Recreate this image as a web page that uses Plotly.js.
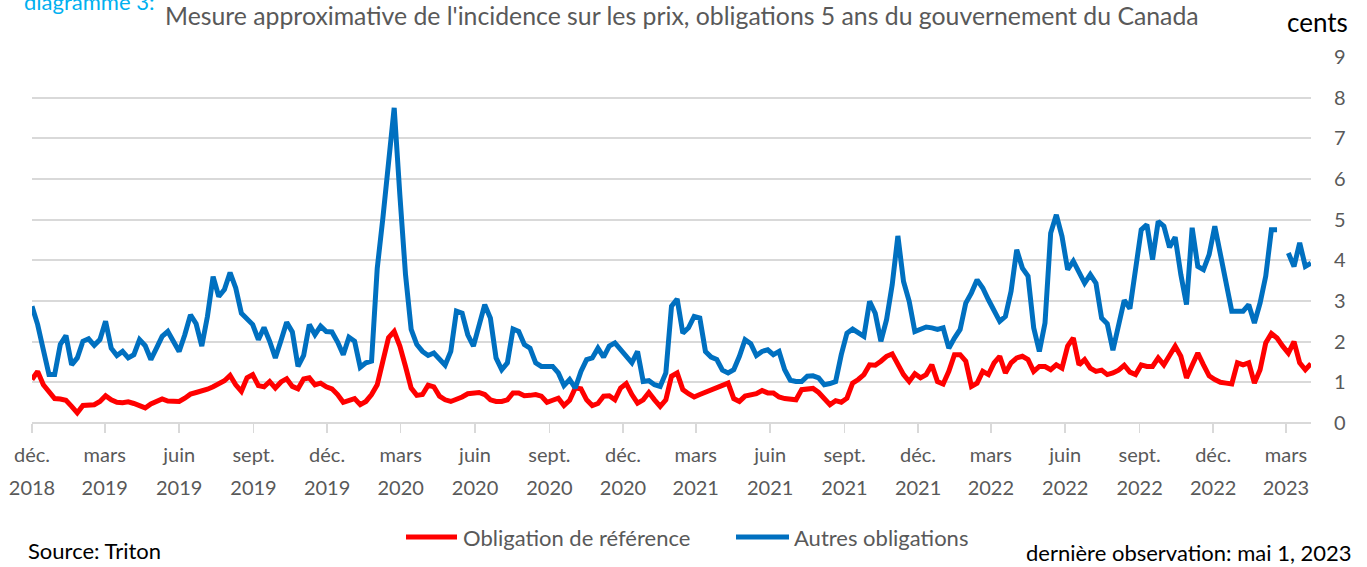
<!DOCTYPE html>
<html><head><meta charset="utf-8">
<script src="https://cdn.plot.ly/plotly-3.0.1.min.js"></script>
<style>html,body{margin:0;padding:0;background:#fff;}#chart{width:1367px;height:567px;}</style>
</head><body><div id="chart"></div>
<script>
// Weekly observations starting at this date
const startDate = '2018-12-01';
const stepDays = 7;

// Obligation de référence (cents)
const reference = [
1.07,1.27,0.94,0.75,0.60,0.59,0.56,0.41,0.25,0.43,
0.45,0.45,0.53,0.67,0.57,0.51,0.50,0.52,0.48,0.43,
0.37,0.47,0.54,0.59,0.54,0.54,0.53,0.61,0.71,0.75,
0.78,0.83,0.89,0.97,1.04,1.17,0.94,0.78,1.11,1.19,
0.92,0.89,1.02,0.86,1.01,1.09,0.90,0.84,1.08,1.11,
0.94,0.98,0.89,0.84,0.70,0.51,0.57,0.60,0.45,0.53,
0.70,0.94,1.52,2.10,2.25,1.89,1.39,0.86,0.68,0.70,
0.93,0.89,0.66,0.57,0.53,0.57,0.64,0.72,0.74,0.75,
0.70,0.57,0.53,0.53,0.57,0.74,0.74,0.67,0.68,0.70,
0.66,0.51,0.56,0.61,0.43,0.56,0.86,0.84,0.57,0.43,
0.48,0.66,0.67,0.57,0.86,0.97,0.70,0.49,0.57,0.75,
0.57,0.41,0.57,1.15,1.23,0.82,0.72,0.64,0.70,0.75,
0.82,0.86,0.93,0.98,0.60,0.53,0.66,0.70,0.72,0.80,
0.74,0.74,0.64,0.60,0.59,0.57,0.82,0.82,0.85,0.75,
0.61,0.45,0.55,0.51,0.61,0.98,1.07,1.19,1.43,1.42,
1.52,1.64,1.70,1.43,1.19,1.02,1.21,1.11,1.19,1.43,
1.02,0.96,1.27,1.68,1.68,1.52,0.90,0.98,1.27,1.19,
1.48,1.64,1.23,1.48,1.60,1.64,1.56,1.27,1.39,1.39,
1.31,1.43,1.35,1.89,2.09,1.43,1.56,1.35,1.27,1.30,
1.19,1.23,1.30,1.42,1.25,1.19,1.43,1.39,1.39,1.60,
1.43,1.66,1.89,1.64,1.11,1.42,1.72,1.43,1.16,1.07,
1.00,0.98,0.96,1.48,1.43,1.48,0.98,1.31,1.97,2.20,
2.09,1.89,1.72,2.00,1.48,1.31,1.46
];

// Autres obligations (cents)
const others = [
2.87,2.42,1.80,1.19,1.19,1.93,2.15,1.43,1.60,2.01,
2.07,1.91,2.05,2.50,1.84,1.66,1.76,1.60,1.68,2.05,
1.90,1.56,1.84,2.13,2.25,2.01,1.76,2.17,2.66,2.44,
1.89,2.62,3.60,3.11,3.28,3.70,3.32,2.70,2.58,2.42,
2.05,2.35,2.01,1.60,2.03,2.48,2.24,1.39,1.66,2.42,
2.17,2.38,2.25,2.24,1.99,1.68,2.11,2.01,1.37,1.48,
1.52,3.80,5.04,6.43,7.75,5.61,3.65,2.30,1.93,1.76,
1.66,1.72,1.58,1.42,1.76,2.75,2.70,2.17,1.89,2.46,
2.91,2.58,1.60,1.31,1.48,2.31,2.25,1.93,1.84,1.48,
1.39,1.39,1.39,1.23,0.92,1.07,0.86,1.27,1.56,1.60,
1.84,1.62,1.89,1.97,1.80,1.64,1.48,1.76,1.02,1.04,
0.94,0.90,1.23,2.87,3.05,2.21,2.34,2.62,2.58,1.76,
1.62,1.56,1.30,1.23,1.31,1.64,2.05,1.95,1.66,1.76,
1.80,1.68,1.76,1.31,1.05,1.02,1.02,1.15,1.16,1.11,
0.94,0.97,1.02,1.68,2.21,2.31,2.21,2.13,2.99,2.70,
2.01,2.54,3.40,4.60,3.48,2.99,2.25,2.30,2.36,2.34,
2.30,2.34,1.84,2.09,2.30,2.95,3.20,3.52,3.32,3.03,
2.76,2.50,2.62,3.24,4.26,3.81,3.61,2.34,1.76,2.46,
4.67,5.12,4.59,3.77,3.98,3.69,3.44,3.65,3.44,2.58,
2.44,1.79,2.42,3.02,2.81,3.85,4.75,4.88,4.02,4.96,
4.84,4.32,4.57,3.65,2.91,4.80,3.85,3.77,4.14,4.84,
4.18,3.44,2.75,2.75,2.75,2.91,2.46,2.95,3.61,4.75,
4.75,null,4.18,3.85,4.43,3.85,3.93
];

const tickDates = ['2018-12-01','2019-03-01','2019-06-01','2019-09-01','2019-12-01','2020-03-01','2020-06-01','2020-09-01','2020-12-01','2021-03-01','2021-06-01','2021-09-01','2021-12-01','2022-03-01','2022-06-01','2022-09-01','2022-12-01','2023-03-01'];
const tickMonths = ['déc.','mars','juin','sept.','déc.','mars','juin','sept.','déc.','mars','juin','sept.','déc.','mars','juin','sept.','déc.','mars'];
const tickYears = ['2018','2019','2019','2019','2019','2020','2020','2020','2020','2021','2021','2021','2021','2022','2022','2022','2022','2023'];
const seriesNames = ['Obligation de référence','Autres obligations'];
const xRange = ['2018-12-01','2023-04-01'];
const yRange = [0, 9];

const t0 = Date.parse(startDate + 'T00:00:00Z');
const dates = reference.map((_, i) => new Date(t0 + i * stepDays * 86400000).toISOString().slice(0, 10));

const RED = '#FF0000', BLUE = '#0070C0', GRAY = '#595959', GRID = '#D9D9D9';
const FONT = 'Lato, "Open Sans", sans-serif';

const traces = [
  {x: dates, y: reference, name: seriesNames[0], type: 'scatter', mode: 'lines',
   line: {color: RED, width: 5}, connectgaps: false, hoverinfo: 'x+y'},
  {x: dates, y: others, name: seriesNames[1], type: 'scatter', mode: 'lines',
   line: {color: BLUE, width: 5}, connectgaps: false, hoverinfo: 'x+y'},
  // carrier for the second (year) label row of the date axis; draws no marks
  {x: [], y: [], xaxis: 'x2', yaxis: 'y', type: 'scatter', mode: 'lines', showlegend: false, hoverinfo: 'skip'}
];

// pixel helpers for paper coordinates (plot area: x 32..1311, y 57..423)
const PL = 32, PW = 1279, PT = 57, PH = 366;
const px = v => (v - PL) / PW;
const py = v => (PT + PH - v) / PH;

const layout = {
  width: 1367, height: 567,
  margin: {l: PL, r: 1367 - PL - PW, t: PT, b: 567 - PT - PH, pad: 0},
  paper_bgcolor: '#fff', plot_bgcolor: '#fff',
  showlegend: false,
  font: {family: FONT, color: GRAY, size: 20},
  xaxis: {type: 'date', range: xRange, tickmode: 'array', tickvals: tickDates, ticktext: tickMonths,
          ticks: 'outside', ticklen: 9, tickwidth: 1.5, tickcolor: GRID,
          showgrid: false, showline: false, zeroline: false, automargin: false,
          tickfont: {family: FONT, size: 20, color: GRAY}, ticklabelstandoff: 5, fixedrange: true},
  xaxis2: {type: 'date', overlaying: 'x', anchor: 'y', side: 'bottom', range: xRange,
          tickmode: 'array', tickvals: tickDates, ticktext: tickYears,
          ticks: '', showgrid: false, showline: false, zeroline: false, automargin: false,
          tickfont: {family: FONT, size: 20, color: GRAY}, ticklabelstandoff: 51, fixedrange: true},
  yaxis: {side: 'right', range: yRange, tick0: 0, dtick: 1, showgrid: true, gridcolor: GRID, gridwidth: 2,
          zeroline: true, zerolinecolor: GRID, zerolinewidth: 2, showline: false,
          ticks: 'outside', ticklen: 18, tickcolor: 'rgba(0,0,0,0)', automargin: false,
          tickfont: {family: FONT, size: 20, color: GRAY}, fixedrange: true},
  shapes: [
    {type: 'line', xref: 'paper', yref: 'paper', x0: px(406), x1: px(457), y0: py(537), y1: py(537),
     line: {color: RED, width: 5}},
    {type: 'line', xref: 'paper', yref: 'paper', x0: px(736), x1: px(789), y0: py(537), y1: py(537),
     line: {color: BLUE, width: 5}}
  ],
  annotations: [
    {xref: 'paper', yref: 'paper', x: px(22), y: py(1), xanchor: 'left', yanchor: 'middle', showarrow: false,
     text: 'diagramme 3:', font: {family: FONT, size: 22, color: '#00B0F0'}},
    {xref: 'paper', yref: 'paper', x: px(163), y: py(15), xanchor: 'left', yanchor: 'middle', showarrow: false,
     text: "Mesure approximative de l'incidence sur les prix, obligations 5 ans du gouvernement du Canada",
     font: {family: FONT, size: 24.8, color: GRAY}},
    {xref: 'paper', yref: 'paper', x: px(1350), y: py(22), xanchor: 'right', yanchor: 'middle', showarrow: false,
     text: 'cents', font: {family: FONT, size: 26, color: '#000'}},
    {xref: 'paper', yref: 'paper', x: px(461), y: py(537), xanchor: 'left', yanchor: 'middle', showarrow: false,
     text: seriesNames[0], font: {family: FONT, size: 22, color: GRAY}},
    {xref: 'paper', yref: 'paper', x: px(792), y: py(537), xanchor: 'left', yanchor: 'middle', showarrow: false,
     text: seriesNames[1], font: {family: FONT, size: 22, color: GRAY}},
    {xref: 'paper', yref: 'paper', x: px(26), y: py(550), xanchor: 'left', yanchor: 'middle', showarrow: false,
     text: 'Source: Triton', font: {family: FONT, size: 22, color: '#000'}},
    {xref: 'paper', yref: 'paper', x: px(1354), y: py(552), xanchor: 'right', yanchor: 'middle', showarrow: false,
     text: 'dernière observation: mai 1, 2023', font: {family: FONT, size: 22, color: '#000'}}
  ]
};

Plotly.newPlot('chart', traces, layout, {displayModeBar: false, staticPlot: true});
</script>
</body></html>
